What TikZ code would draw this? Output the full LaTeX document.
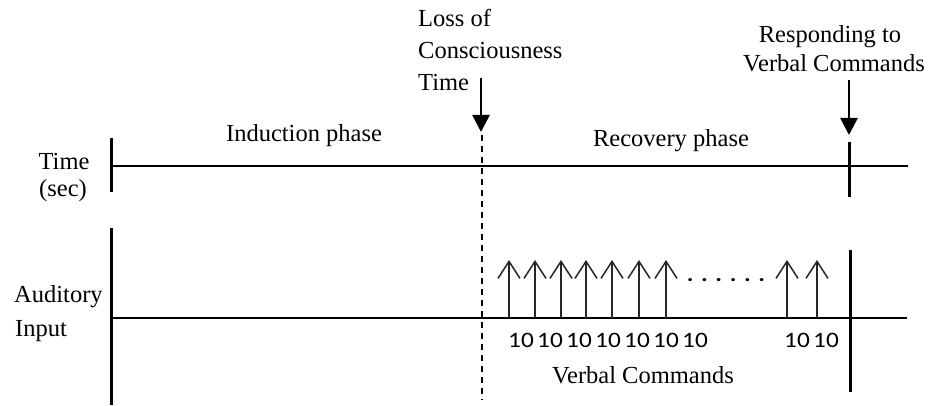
\documentclass[tikz,border=0pt]{standalone}
\usepackage{fontspec}
\setmainfont{Liberation Serif}
\newfontfamily\numfont[FakeStretch=1.15]{Carlito}
\newfontfamily\dotfont[FakeStretch=1.2]{Carlito}
\usetikzlibrary{arrows.meta}
\tikzset{
  lbl/.style={inner sep=0pt, font=\fontsize{24.5}{28}\selectfont},
  numlbl/.style={inner sep=0pt, anchor=base, font=\numfont\fontsize{22}{26}\selectfont},
  axis/.style={line width=2.8pt},
  bar/.style={line width=3pt},
  evarrow/.style={line width=2.6pt, -{Triangle[length=17pt,width=17pt]}},
  cmdarrow/.style={line width=1.5pt, black!85, -{Straight Barb[length=17pt,width=22pt,line width=1.5pt]}},
  locline/.style={line width=2pt, dash pattern=on 6pt off 5pt}
}
\begin{document}
\begin{tikzpicture}[x=1pt,y=-1pt]
\fill[white] (0,0) rectangle (935,406);
\useasboundingbox (0,0) rectangle (935,406);

% coordinates
\coordinate (tL) at (111,166);
\coordinate (tR) at (908,166);
\coordinate (tLtop) at (111,138);
\coordinate (tLbot) at (111,192);
\coordinate (tRtop) at (849,142);
\coordinate (tRbot) at (849,197);
\coordinate (aL) at (111,318);
\coordinate (aR) at (907,318);
\coordinate (aLtop) at (111,228);
\coordinate (aLbot) at (111,405);
\coordinate (aRtop) at (850,250);
\coordinate (aRbot) at (850,392);
\coordinate (dTop) at (482,135);
\coordinate (dBot) at (482,400);
\coordinate (locS) at (481,78);
\coordinate (locE) at (481,132);
\coordinate (rvS) at (849,80);
\coordinate (rvE) at (849,135);

% axes
\draw[axis] (tL) -- (tR);
\draw[axis] (aL) -- (aR);
\draw[bar] (tLtop) -- (tLbot);
\draw[bar] (tRtop) -- (tRbot);
\draw[bar] (aLtop) -- (aLbot);
\draw[bar] (aRtop) -- (aRbot);
\draw[locline] (dTop) -- (dBot);

% event arrows
\draw[evarrow] (locS) -- (locE);
\draw[evarrow] (rvS) -- (rvE);

% command arrows
\foreach \i/\x in {1/509,2/535,3/561,4/586,5/612,6/639,7/666,8/787,9/817}{
  \coordinate (cb\i) at (\x,318);
  \coordinate (ct\i) at (\x,260);
  \draw[cmdarrow] (cb\i) -- (ct\i);
}

% labels
\node[lbl, anchor=base west] (loss1) at (418,27) {Loss of};
\node[lbl, anchor=base west] (loss2) at (418,59) {Consciousness};
\node[lbl, anchor=base west] (loss3) at (418,91) {Time};
\node[lbl, anchor=base] (resp1) at (830,43) {Responding to};
\node[lbl, anchor=base] (resp2) at (834,72) {Verbal Commands};
\node[lbl, anchor=base] (ind) at (304,142) {Induction phase};
\node[lbl, anchor=base] (rec) at (671,147) {Recovery phase};
\node[lbl, anchor=base] (time1) at (64,170) {Time};
\node[lbl, anchor=base] (time2) at (63,197) {(sec)};
\node[lbl, anchor=base west] (aud1) at (14,302) {Auditory};
\node[lbl, anchor=base west] (aud2) at (15,336) {Input};
\node[lbl, anchor=base] (verb) at (643,383) {Verbal Commands};

% numbers
\foreach \i/\x in {1/521,2/550,3/579,4/608,5/637,6/666,7/695,8/797,9/826}{
  \node[numlbl] (n\i) at (\x,347) {10};
}
\node[numlbl, font=\dotfont\bfseries\fontsize{21}{24}\selectfont] (dots) at (726,282) {. . . . . .};
\end{tikzpicture}
\end{document}
